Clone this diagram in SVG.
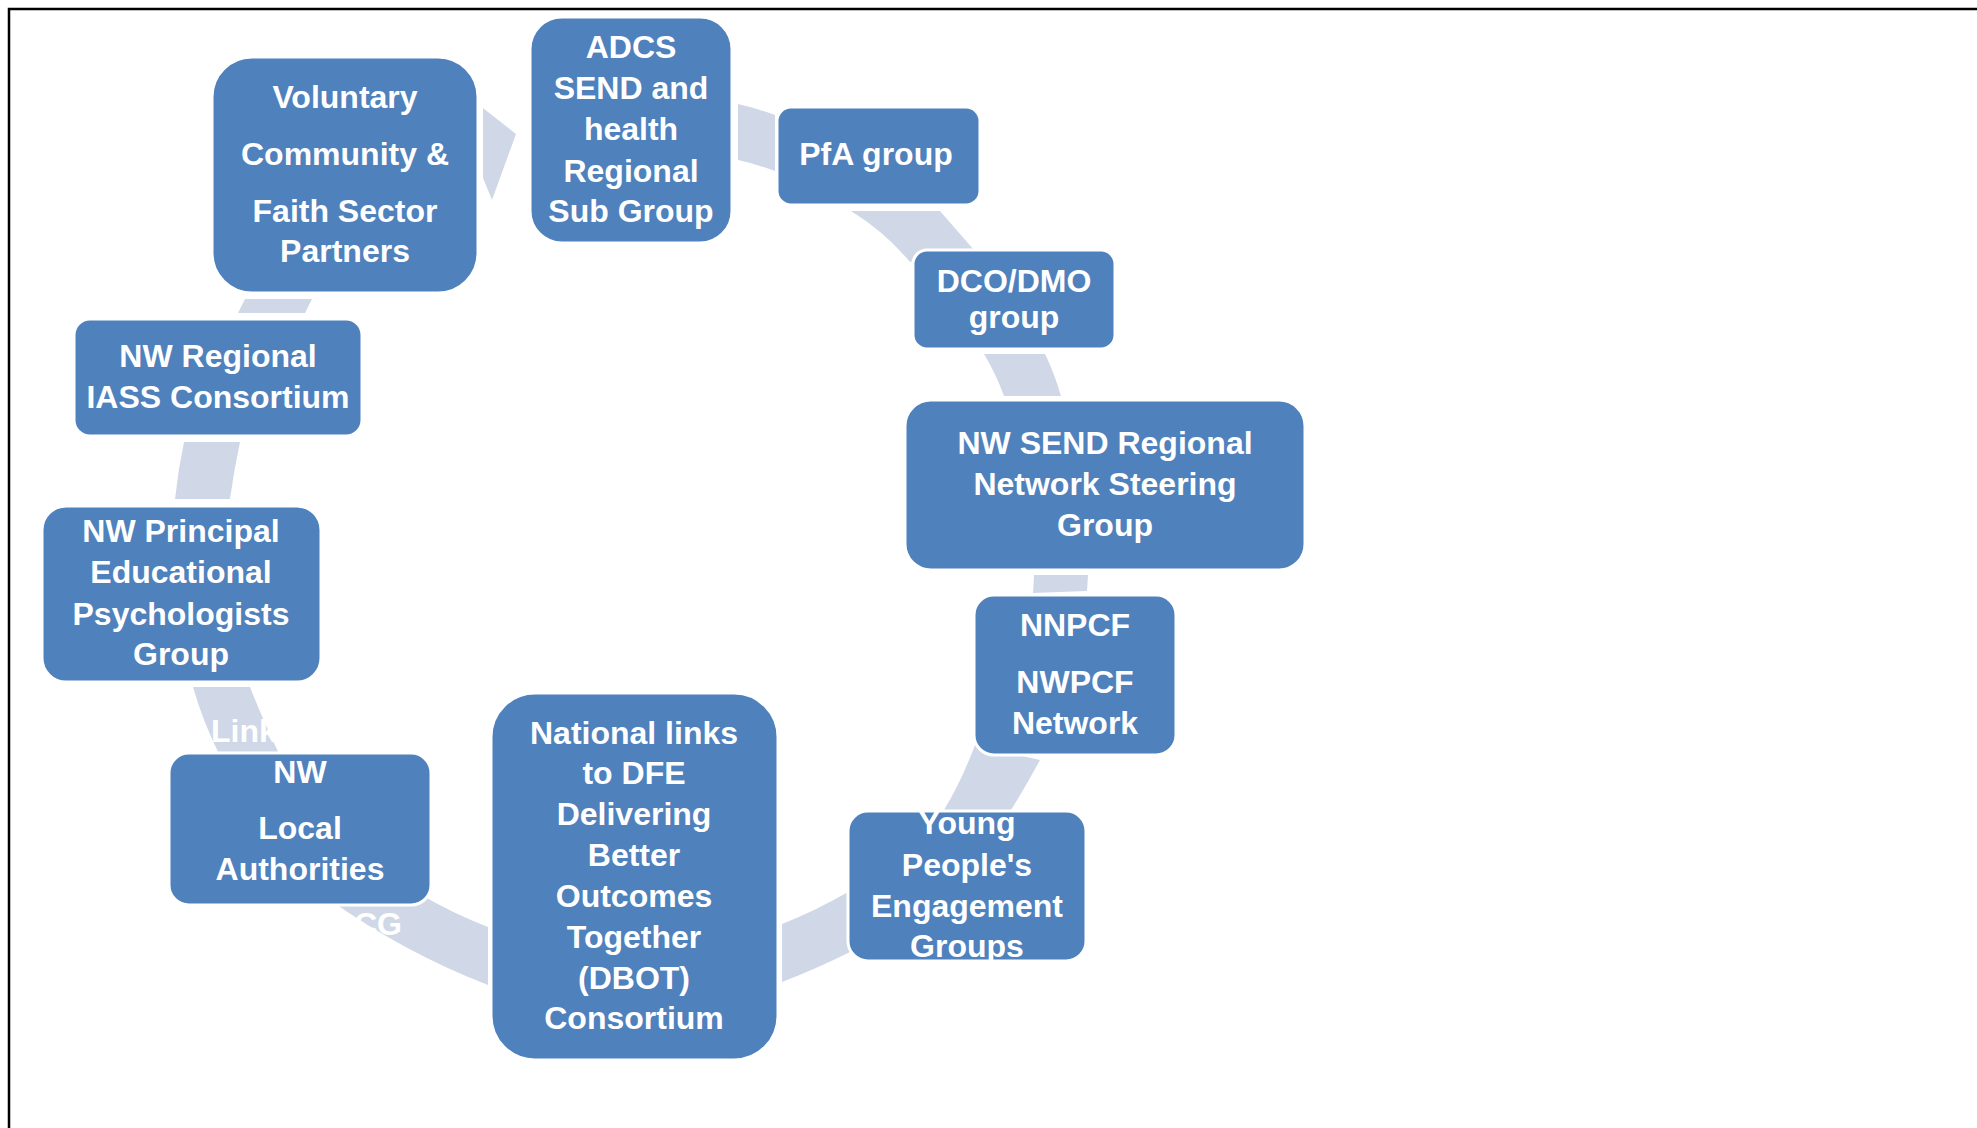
<svg xmlns="http://www.w3.org/2000/svg" width="1977" height="1128" viewBox="0 0 1977 1128">
<style>
.node rect{fill:#4F81BD;stroke:#FFFFFF;stroke-width:3}
.node text,.stray{font-family:"Liberation Sans",Arial,sans-serif;font-weight:bold;font-size:32px;fill:#FFFFFF;text-anchor:middle}
.stray{text-anchor:start}
.conn path{fill:#D0D8E8;stroke:none}
.frame{stroke:#000000;stroke-width:2.5;fill:none}
</style>
<rect x="0" y="0" width="1977" height="1128" fill="#FFFFFF"/>
<path class="frame" d="M9,1128 L9,9 L1977,9"/>
<g id="connectors" class="conn">
<path d="M483,108 L516,134 L492,200 L483,178 Z"/>
<path d="M738,104 Q756,108 775,115 L775,171 Q756,164 738,160 Z"/>
<path d="M851,211 L940,211 L974,250 L910,262 Q885,232 851,211 Z"/>
<path d="M984,354 L1045,354 Q1054,372 1061,396 L1004,396 Q996,374 984,354 Z"/>
<path d="M1034,575 L1088,575 L1087,591 L1033,593 Z"/>
<path d="M975,745 L1040,760 Q1026,786 1011,810 L944,810 Q962,780 975,745 Z"/>
<path d="M782,924 Q815,911 848,892 L850,952 Q816,969 782,982 Z"/>
<path d="M488,927 Q452,913 418,893 L330,900 Q405,953 488,985 Z"/>
<path d="M193,687 L250,687 Q262,718 280,756 L220,756 Q203,722 193,687 Z"/>
<path d="M184,442 L240,442 Q234,470 230,499 L175,499 Q178,470 184,442 Z"/>
<path d="M245,299 L312,299 L305,313 L238,313 Z"/>
</g>
<text class="stray" x="211" y="742">Link</text>
<text class="stray" x="354" y="935">CG</text>
<g id="n-voluntary" class="node">
<rect x="212" y="57" width="266" height="236" rx="40" ry="40"/>
<text x="345" y="108">Voluntary</text>
<text x="345" y="165">Community &amp;</text>
<text x="345" y="222">Faith Sector</text>
<text x="345" y="262">Partners</text>
</g>
<g id="n-adcs" class="node">
<rect x="530" y="17" width="202" height="226" rx="32" ry="32"/>
<text x="631" y="58">ADCS</text>
<text x="631" y="99">SEND and</text>
<text x="631" y="140">health</text>
<text x="631" y="182">Regional</text>
<text x="631" y="222">Sub Group</text>
</g>
<g id="n-pfa" class="node">
<rect x="777" y="107" width="203" height="98" rx="14" ry="14"/>
<text x="876" y="165">PfA group</text>
</g>
<g id="n-dco" class="node">
<rect x="913" y="250" width="202" height="99" rx="14" ry="14"/>
<text x="1014" y="292">DCO/DMO</text>
<text x="1014" y="328">group</text>
</g>
<g id="n-nwsend" class="node">
<rect x="905" y="400" width="400" height="170" rx="26" ry="26"/>
<text x="1105" y="454">NW SEND Regional</text>
<text x="1105" y="495">Network Steering</text>
<text x="1105" y="536">Group</text>
</g>
<g id="n-nnpcf" class="node">
<rect x="974" y="595" width="202" height="160" rx="20" ry="20"/>
<text x="1075" y="636">NNPCF</text>
<text x="1075" y="693">NWPCF</text>
<text x="1075" y="734">Network</text>
</g>
<g id="n-young" class="node">
<rect x="848" y="811" width="238" height="150" rx="20" ry="20"/>
<text x="967" y="834">Young</text>
<text x="967" y="876">People's</text>
<text x="967" y="917">Engagement</text>
<text x="967" y="957">Groups</text>
</g>
<g id="n-national" class="node">
<rect x="491" y="693" width="287" height="367" rx="44" ry="44"/>
<text x="634" y="744">National links</text>
<text x="634" y="784">to DFE</text>
<text x="634" y="825">Delivering</text>
<text x="634" y="866">Better</text>
<text x="634" y="907">Outcomes</text>
<text x="634" y="948">Together</text>
<text x="634" y="989">(DBOT)</text>
<text x="634" y="1029">Consortium</text>
</g>
<g id="n-la" class="node">
<rect x="169" y="753" width="262" height="152" rx="20" ry="20"/>
<text x="300" y="783">NW</text>
<text x="300" y="839">Local</text>
<text x="300" y="880">Authorities</text>
</g>
<g id="n-pep" class="node">
<rect x="42" y="506" width="279" height="176" rx="24" ry="24"/>
<text x="181" y="542">NW Principal</text>
<text x="181" y="583">Educational</text>
<text x="181" y="625">Psychologists</text>
<text x="181" y="665">Group</text>
</g>
<g id="n-iass" class="node">
<rect x="74" y="319" width="288" height="117" rx="16" ry="16"/>
<text x="218" y="367">NW Regional</text>
<text x="218" y="408">IASS Consortium</text>
</g>
</svg>
